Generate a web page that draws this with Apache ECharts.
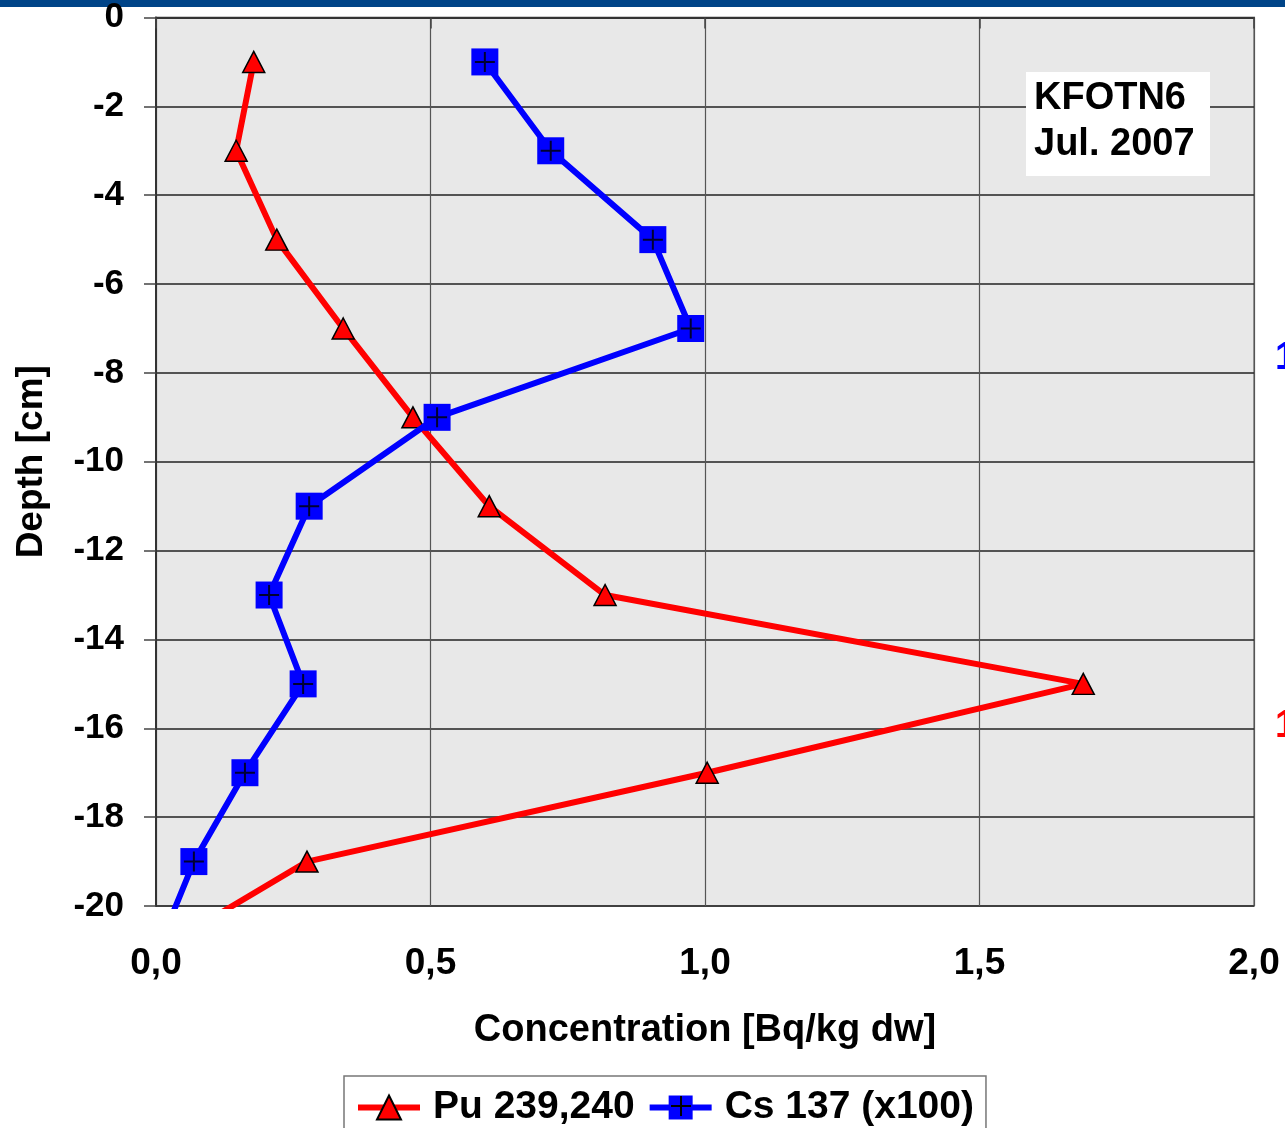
<!DOCTYPE html>
<html>
<head>
<meta charset="utf-8">
<script src="https://cdn.jsdelivr.net/npm/echarts@6/dist/echarts.min.js"></script>
<style>
html,body{margin:0;padding:0;background:#fff;}
#c{width:1285px;height:1128px;}
</style>
</head>
<body>
<div id="c"></div>
<script>
// Depths (cm) and concentrations
const depths = [-1, -3, -5, -7, -9, -11, -13, -15, -17, -19, -21];
const pu239240 = [0.178, 0.146, 0.220, 0.341, 0.468, 0.607, 0.818, 1.689, 1.004, 0.275, 0.003];
const cs137x100 = [0.599, 0.719, 0.905, 0.974, 0.512, 0.279, 0.206, 0.268, 0.162, 0.069, 0.003];
const xTicks = [0, 0.5, 1.0, 1.5, 2.0];
const yTicks = [0, -2, -4, -6, -8, -10, -12, -14, -16, -18, -20];
const seriesNames = ['Pu 239,240', 'Cs 137 (x100)'];
const boxLines = ['KFOTN6', 'Jul. 2007'];

const FONT = '"Liberation Sans", Arial, sans-serif';
const puData = depths.map((d, i) => [pu239240[i], d]);
const csData = depths.map((d, i) => [cs137x100[i], d]);

const chart = echarts.init(document.getElementById('c'), null, {renderer: 'canvas'});
chart.setOption({
  backgroundColor: '#ffffff',
  animation: false,
  textStyle: {fontFamily: FONT},
  grid: {left: 156, right: 31, top: 17, bottom: 222, show: true,
         backgroundColor: '#e8e8e8', borderColor: '#9a9a9a', borderWidth: 2},
  xAxis: {
    type: 'value', min: xTicks[0], max: xTicks[xTicks.length - 1], interval: 0.5,
    name: 'Concentration [Bq/kg dw]', nameLocation: 'middle', nameGap: 106,
    nameTextStyle: {fontSize: 38, fontWeight: 'bold', color: '#000', fontFamily: FONT},
    axisLine: {show: true, lineStyle: {color: '#333', width: 2}},
    axisTick: {show: true, length: 11, lineStyle: {color: '#444', width: 1.5}},
    axisLabel: {margin: 39, fontSize: 37, fontWeight: 'bold', color: '#000', fontFamily: FONT,
      formatter: v => v.toFixed(1).replace('.', ',')},
    splitLine: {show: true, lineStyle: {color: '#555', width: 1.2}}
  },
  yAxis: {
    type: 'value', min: yTicks[yTicks.length - 1], max: yTicks[0], interval: 2,
    name: 'Depth [cm]', nameLocation: 'middle', nameGap: 106, nameRotate: 90,
    nameTextStyle: {fontSize: 37, fontWeight: 'bold', color: '#000', fontFamily: FONT},
    axisLine: {show: true, onZero: false, lineStyle: {color: '#333', width: 2}},
    axisTick: {show: true, length: 12, lineStyle: {color: '#444', width: 1.5}},
    axisLabel: {margin: 32, fontSize: 35, fontWeight: 'bold', color: '#000', fontFamily: FONT},
    splitLine: {show: true, lineStyle: {color: '#222', width: 1.5}}
  },
  legend: {
    left: 344, top: 1076, orient: 'horizontal',
    backgroundColor: '#fff', borderColor: '#777', borderWidth: 1.5,
    padding: [12, 12, 30, 11], itemGap: 12, itemWidth: 62, itemHeight: 30,
    lineStyle: {width: 6},
    textStyle: {fontSize: 39, fontWeight: 'bold', color: '#000', fontFamily: FONT, padding: [0, 0, 0, 8]},
    data: seriesNames
  },
  series: [
    {
      name: seriesNames[0], type: 'line', data: puData, clip: true,
      lineStyle: {color: '#ff0000', width: 6},
      symbol: 'triangle', symbolSize: [22, 21],
      itemStyle: {color: '#ff0000', borderColor: '#000', borderWidth: 1.5},
      z: 3
    },
    {
      name: seriesNames[1], type: 'line', data: csData, clip: true,
      lineStyle: {color: '#0000ff', width: 6},
      symbol: 'rect', symbolSize: 27,
      itemStyle: {color: '#0000ff', borderWidth: 0},
      z: 4
    },
    {
      name: 'cs-plus', type: 'scatter', data: csData, clip: true,
      symbol: 'path://M10,0 L10,20 M0,10 L20,10', symbolSize: 20,
      itemStyle: {color: 'rgba(0,0,0,0)', borderColor: '#000', borderWidth: 2},
      silent: true, z: 5
    }
  ],
  graphic: [
    {type: 'rect', left: 0, top: 0, shape: {width: 1285, height: 7}, style: {fill: '#004488'}},
    {type: 'rect', left: 1026, top: 72, z: 10, shape: {width: 184, height: 104}, style: {fill: '#fff'}},
    {type: 'text', left: 1034, top: 80, z: 11, style: {text: boxLines[0], font: 'bold 38px ' + FONT, fill: '#000'}},
    {type: 'text', left: 1034, top: 126, z: 11, style: {text: boxLines[1], font: 'bold 38px ' + FONT, fill: '#000'}},
    {type: 'text', left: 1275, top: 340, z: 11, style: {text: '1', font: 'bold 38px ' + FONT, fill: '#0000ff'}},
    {type: 'text', left: 1275, top: 708, z: 11, style: {text: '1', font: 'bold 38px ' + FONT, fill: '#ff0000'}},
    // black plus on the Cs legend icon
    {type: 'polyline', z: 100, shape: {points: [[681, 1096], [681, 1116]]}, style: {stroke: '#000', lineWidth: 2}},
    {type: 'polyline', z: 100, shape: {points: [[671, 1106], [691, 1106]]}, style: {stroke: '#000', lineWidth: 2}}
  ]
});
</script>
</body>
</html>
